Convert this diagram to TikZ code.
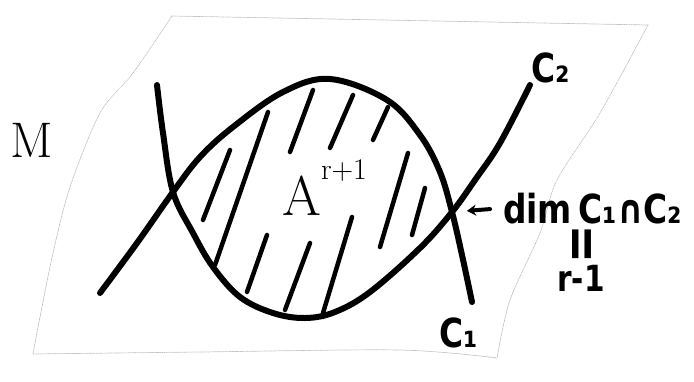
\documentclass[tikz,border=0pt]{standalone}
\usepackage{fontspec}
\usetikzlibrary{arrows.meta}
\newfontfamily\felt{DejaVu Sans}[FakeStretch=0.82]

\begin{document}
\begin{tikzpicture}[x=1pt,y=-1pt,line cap=round,line join=round,
    sheet/.style={gray!55,line width=0.7pt,densely dotted},
    curve/.style={line width=6pt},
    hatch/.style={line width=4.5pt},
    scrawl/.style={inner sep=0pt,font=\felt\bfseries\fontsize{40}{40}\selectfont}]
  \useasboundingbox (0,0) rectangle (694,381);
  \coordinate (P) at (173,192);
  \coordinate (Q) at (452,212);
  \coordinate (S1) at (172,16);
  \coordinate (S2) at (648,25);
  \coordinate (S3) at (497,358);
  \coordinate (S4) at (33,354);
  % the sheet M
  \draw[sheet] plot[smooth] coordinates {(S1) (133,73) (100,113) (70,187) (53,253) (40,317) (S4)};
  \draw[sheet] (S1) -- (S2);
  \draw[sheet] plot[smooth] coordinates {(S2) (600,113) (557,180) (540,233) (510,300) (S3)};
  \draw[sheet] plot[smooth] coordinates {(S4) (200,352) (400,350) (S3)};
  % C1 and C2
  \draw[curve] plot[smooth,tension=0.6] coordinates {(100,293) (137,243) (P) (200,157) (233,127) (283,92) (330,79) (387,100) (420,135) (440,172) (Q) (462,255) (472,302)};
  \draw[curve] plot[smooth,tension=0.6] coordinates {(157,85) (163,133) (P) (193,233) (213,267) (240,297) (273,313) (305,318) (335,312) (370,292) (420,248) (Q) (475,180) (500,143) (530,85)};
  % hatching of A
  \foreach \xa/\ya/\xb/\yb in {203/220/230/150, 215/265/268/112, 247/292/267/235,
      285/310/310/243, 290/152/313/90, 330/148/353/95, 373/140/388/107,
      323/313/352/217, 380/247/408/153, 412/235/425/188}
    \draw[hatch] (\xa,\ya) -- (\xb,\yb);
  \node[font=\fontsize{50}{50}\selectfont] (M) at (32,140) {M};
  \node[anchor=base west,inner sep=0pt,font=\fontsize{56}{56}\selectfont] (A) at (282,215)
    {A\raisebox{36pt}{\fontsize{30}{30}\selectfont r+1}};
  \node[scrawl,anchor=base west] (dim) at (503,223) {dim\,C₁∩C₂};
  \node[scrawl,rotate=90,font=\felt\bfseries\fontsize{56}{56}\selectfont] (eq) at (586,244) {=};
  \node[scrawl,font=\felt\bfseries\fontsize{36}{36}\selectfont] (rk) at (581,278) {r-1};
  \node[scrawl] (c2) at (551,68) {C₂};
  \node[scrawl] (c1) at (459,333) {C₁};
  \draw[line width=4pt,-{Stealth[length=9pt,width=11pt]},shorten <=13pt,shorten >=15pt] (dim.west) -- (Q);
\end{tikzpicture}
\end{document}
